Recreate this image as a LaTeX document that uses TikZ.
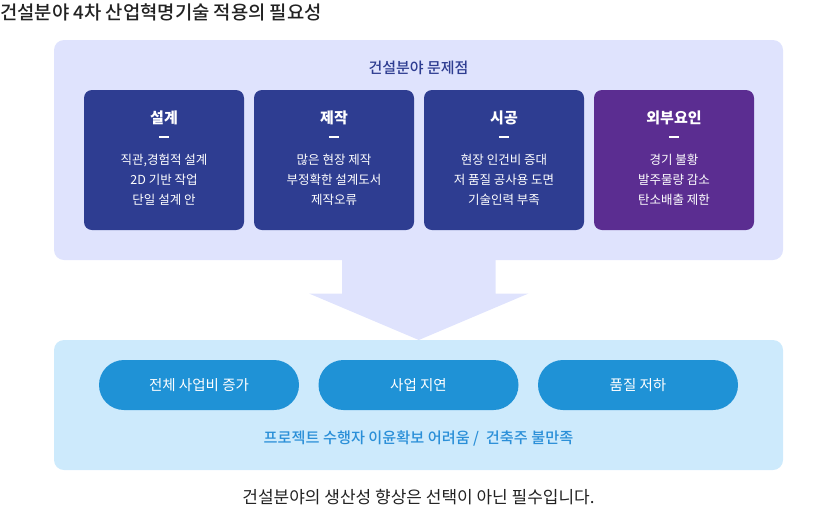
\documentclass[tikz,border=0pt]{standalone}
\usepackage{fontspec}
\setmainfont{Noto Sans CJK KR}
\newfontfamily\krmedium{Noto Sans CJK KR Medium}
\usetikzlibrary{positioning}
\definecolor{probbg}{HTML}{DFE3FD}
\definecolor{navy}{HTML}{2E3D91}
\definecolor{violet}{HTML}{5B2D91}
\definecolor{effbg}{HTML}{CDEAFC}
\definecolor{pillblue}{HTML}{1F92D6}
\definecolor{effblue}{HTML}{2A8FD8}
\definecolor{ink}{HTML}{222222}
\begin{document}
\begin{tikzpicture}[x=1pt,y=-1pt,
  panel/.style={rounded corners=10pt, minimum width=729pt, inner sep=0pt},
  card/.style={fill=navy, rounded corners=8pt, minimum width=160pt, minimum height=140pt, inner sep=0pt},
  cardhead/.style={text=white, font=\fontsize{15}{18}\selectfont\bfseries},
  cardtick/.style={fill=white, minimum width=10pt, minimum height=2pt, inner sep=0pt},
  cardbody/.style={text=white, align=center, font=\fontsize{12.5}{20}\selectfont},
  pill/.style={fill=pillblue, rounded corners=25pt, minimum width=200pt, minimum height=50pt, text=white, font=\fontsize{14.5}{16}\selectfont}]
\useasboundingbox (0,0) rectangle (838,520);
%\draw[help lines] (0,0) grid[step=50] (838,520);
\node[anchor=west, text=ink, inner sep=0pt, font=\krmedium\fontsize{18.8}{22}\selectfont] (title) at (0,12) {건설분야 4차 산업혁명기술 적용의 필요성};

% problems
\node[panel, fill=probbg, minimum height=220pt] (prob) at (418.5,150) {};
\node[text=navy, font=\krmedium\fontsize{15}{17}\selectfont] (probtitle) at (418.5,68) {건설분야 문제점};
\node[card] (design) at (164,160) {};
\node[card] (make) at (334,160) {};
\node[card] (build) at (504,160) {};
\node[card, fill=violet] (extern) at (674,160) {};
\node[cardhead] at (164,118) {설계};
\node[cardhead] at (334,118) {제작};
\node[cardhead] at (504,118) {시공};
\node[cardhead] at (674,118) {외부요인};
\foreach \x in {164,334,504,674} \node[cardtick] at (\x,137) {};
\node[cardbody] at (164,180) {직관,경험적 설계\\2D 기반 작업\\단일 설계 안};
\node[cardbody] at (334,180) {많은 현장 제작\\부정확한 설계도서\\제작오류};
\node[cardbody] at (504,180) {현장 인건비 증대\\저 품질 공사용 도면\\기술인력 부족};
\node[cardbody] at (674,180) {경기 불황\\발주물량 감소\\탄소배출 제한};

% big arrow
\fill[probbg] (342,259) -- (342,293.5) -- (309,293.5) -- (418.8,340) -- (528.5,293.5) -- (495.5,293.5) -- (495.5,259) -- cycle;

% effects
\node[panel, fill=effbg, minimum height=130pt] (eff) at (418.5,405) {};
\node[pill] (cost) at (199,385) {전체 사업비 증가};
\node[pill] (delay) at (418.5,385) {사업 지연};
\node[pill] (quality) at (638,385) {품질 저하};
\node[text=effblue, font=\krmedium\fontsize{15.2}{17}\selectfont] (effnote) at (418.5,438) {프로젝트 수행자 이윤확보 어려움 /\ \ 건축주 불만족};
\node[text=ink, font=\fontsize{17}{20}\selectfont] (closing) at (418.5,497) {건설분야의 생산성 향상은 선택이 아닌 필수입니다.};
\end{tikzpicture}
\end{document}
